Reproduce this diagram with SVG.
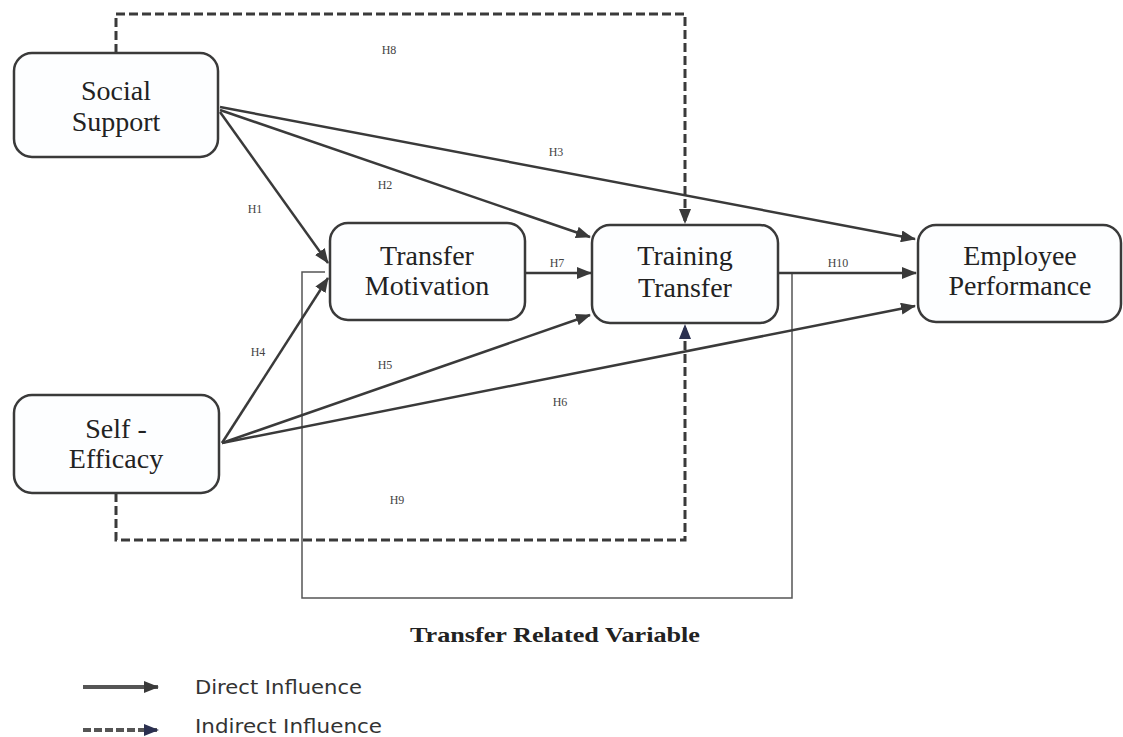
<svg xmlns="http://www.w3.org/2000/svg" width="1123" height="737" viewBox="0 0 1123 737">
<defs>
<style>
.node rect{fill:#fdfeff;stroke:#3a3a3a;stroke-width:2.5}
.node text{font-family:"Liberation Serif","Times New Roman",serif;font-size:28px;fill:#222;text-anchor:middle}
.c{fill:none;stroke:#3a3a3a;stroke-width:2.5}
.d{fill:none;stroke:#3a3a3a;stroke-width:3;stroke-dasharray:9 4}
.thin{fill:none;stroke:#555;stroke-width:1.5}
.lbl{font-family:"Liberation Serif","Times New Roman",serif;font-size:12px;fill:#444;text-anchor:middle}
.leg{font-family:"DejaVu Sans",Verdana,sans-serif;font-size:19px;fill:#333}
</style>
<marker id="ah" markerUnits="userSpaceOnUse" markerWidth="15" markerHeight="12" refX="14" refY="6" orient="auto">
<path d="M0,0 L15,6 L0,12 z" fill="#3a3a3a"/>
</marker>
<marker id="ahb" markerUnits="userSpaceOnUse" markerWidth="15" markerHeight="12" refX="14" refY="6" orient="auto">
<path d="M0,0 L15,6 L0,12 z" fill="#2b3050"/>
</marker>
</defs>
<rect width="1123" height="737" fill="#ffffff"/>

<g id="connectors">
<path class="thin" d="M325,272 H302 V598 H792 V273"/>
<path class="d" d="M116,53 V14 H685 V223" marker-end="url(#ah)"/>
<path class="d" d="M116,493 V540 H685 V325" stroke="#2f3348" marker-end="url(#ahb)"/>
<line class="c" x1="220" y1="112" x2="328" y2="263" marker-end="url(#ah)"/>
<line class="c" x1="220" y1="110" x2="590" y2="237" marker-end="url(#ah)"/>
<line class="c" x1="220" y1="107" x2="915" y2="239" marker-end="url(#ah)"/>
<line class="c" x1="222" y1="443" x2="328" y2="278" marker-end="url(#ah)"/>
<line class="c" x1="222" y1="443" x2="590" y2="315" marker-end="url(#ah)"/>
<line class="c" x1="222" y1="443" x2="915" y2="306" marker-end="url(#ah)"/>
<line class="c" x1="525" y1="273" x2="591" y2="273" marker-end="url(#ah)"/>
<line class="c" x1="778" y1="273" x2="916" y2="273" marker-end="url(#ah)"/>
<text class="lbl" x="389" y="54">H8</text>
<text class="lbl" x="556" y="156">H3</text>
<text class="lbl" x="385" y="189">H2</text>
<text class="lbl" x="255" y="213">H1</text>
<text class="lbl" x="557" y="267">H7</text>
<text class="lbl" x="838" y="267">H10</text>
<text class="lbl" x="258" y="356">H4</text>
<text class="lbl" x="385" y="369">H5</text>
<text class="lbl" x="560" y="406">H6</text>
<text class="lbl" x="397" y="504">H9</text>
</g>

<g id="social-support" class="node">
<rect x="14" y="53" width="204" height="104" rx="18"/>
<text x="116" y="100">Social</text>
<text x="116" y="131">Support</text>
</g>
<g id="self-efficacy" class="node">
<rect x="14" y="395" width="205" height="98" rx="18"/>
<text x="116" y="438">Self -</text>
<text x="116" y="468">Efficacy</text>
</g>
<g id="transfer-motivation" class="node">
<rect x="330" y="223" width="195" height="97" rx="18"/>
<text x="427" y="265">Transfer</text>
<text x="427" y="295">Motivation</text>
</g>
<g id="training-transfer" class="node">
<rect x="592" y="225" width="186" height="98" rx="18"/>
<text x="685" y="265">Training</text>
<text x="685" y="297">Transfer</text>
</g>
<g id="employee-performance" class="node">
<rect x="918" y="225" width="203" height="97" rx="18"/>
<text x="1020" y="265">Employee</text>
<text x="1020" y="295">Performance</text>
</g>

<g id="group-label">
<text x="410" y="642" font-family="'Liberation Serif','Times New Roman',serif" font-size="22" font-weight="bold" fill="#222" textLength="290" lengthAdjust="spacingAndGlyphs">Transfer Related Variable</text>
</g>

<g id="legend">
<line x1="83" y1="687" x2="158" y2="687" stroke="#555" stroke-width="4" marker-end="url(#ah)"/>
<text class="leg" x="195" y="694" textLength="167" lengthAdjust="spacingAndGlyphs">Direct Influence</text>
<line x1="83" y1="730" x2="158" y2="730" stroke="#555" stroke-width="4" stroke-dasharray="8 3" marker-end="url(#ahb)"/>
<text class="leg" x="195" y="733" textLength="187" lengthAdjust="spacingAndGlyphs">Indirect Influence</text>
</g>
</svg>
